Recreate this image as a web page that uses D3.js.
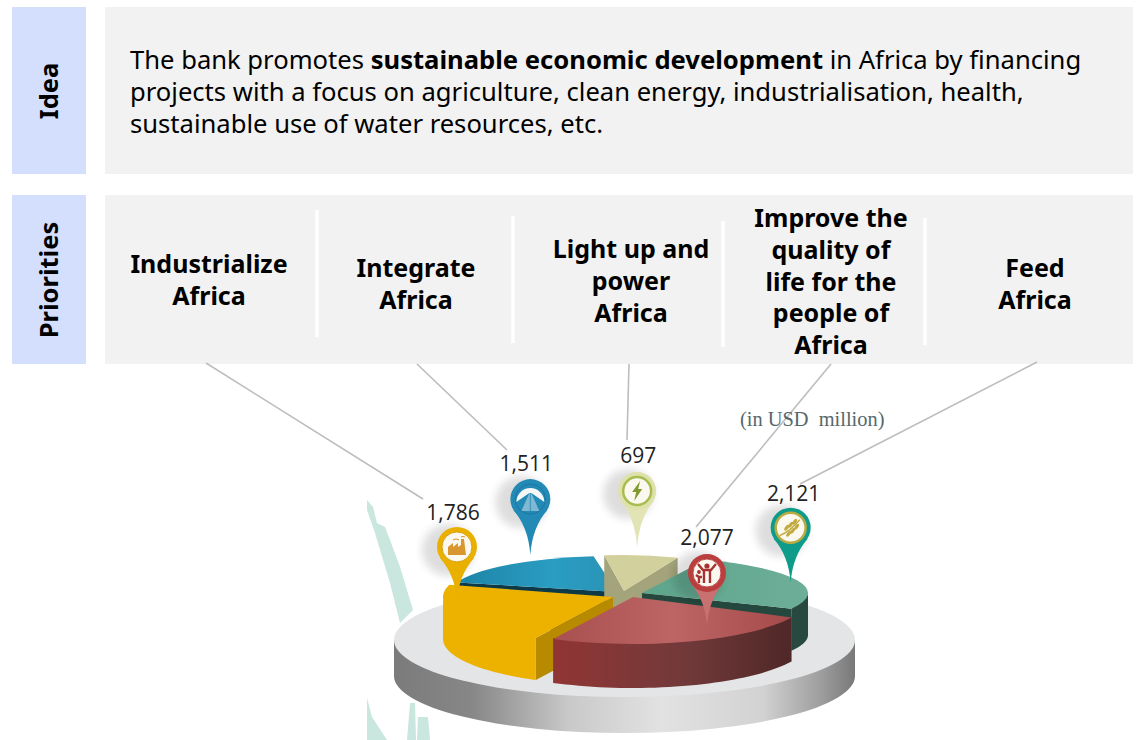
<!DOCTYPE html>
<html lang="en">
<head>
<meta charset="utf-8">
<title>Priorities</title>
<style>
  html, body { margin: 0; padding: 0; background: #fff; }
  svg { display: block; }
  text { font-family: "Noto Sans", "Open Sans", sans-serif; fill: #000; }
</style>
</head>
<body>
<div id="chart"></div>
<script src="https://d3js.org/d3.v7.min.js"></script>
<script>
// data
var categories = ["Industrialize Africa", "Integrate Africa", "Light up and power Africa",
                  "Improve the quality of life for the people of Africa", "Feed Africa"];
var categoryLines = [
  ["Industrialize", "Africa"],
  ["Integrate", "Africa"],
  ["Light up and", "power", "Africa"],
  ["Improve the", "quality of", "life for the", "people of", "Africa"],
  ["Feed", "Africa"]
];
var values = [1786, 1511, 697, 2077, 2121];
var pieOrder = [0, 1, 2, 4, 3];   // clockwise order in the pie

// layout
var W = 1139, H = 740;
var cx = 625, cy = 595;
var rad = Math.PI / 180;
var explode = [[-12, 2], [-8, -3], [-1, -4], [8, 2], [17, -2]];
var radius = [170, 166, 140, 176, 166];
var radiusY = [46, 36, 36, 47, 36];   // the back of the pie is flatter
var wallH = [42, 42, 42, 44, 42];
var drawOrder = [1, 2, 4, 0, 3];
var firstAngle = 207;

var topFill = ["#edb200", "url(#gBlue)", "#d2d09c", "url(#gRed)", "url(#gGreen)"];
var wallFill = ["#edb200", "#0f3f4d", "#d2d09c", "url(#gRedWall)", "#27493f"];
var faceFill = ["#b88a00", "#0e3a47", "#a3a37c", "#5a2a2a", "#25483e"];

var cellBottomY = [273, 277, 258, 227, 277];
var cellX = [209, 416, 631, 831, 1035];
var lineStep = 31.8;
var leaderTop = [[206, 363], [417, 364], [629, 364], [831, 364], [1037, 362]];
var leaderEnd = [[423, 499], [507, 450], [627, 440], [696, 527], [800, 484]];

var pinAngle = [266, 333, 4.4, 144.8, 72.3];
var pinReach = [0.92, 1.15, 1.225, 0.729, 0.94];
var pinLen = [53, 56, 56, 52, 55];
var pinR = [20, 20, 19, 19, 20];
var labelDx = [-4, -4, 1, 0, 3];
var labelDy = [-27, -28, -28, -28, -27];
var pinColor = ["#eab000", "#2389b5", "#dfe1ab", "#b93f3f", "#0f9b8a"];
var pinRing = ["#d99f12", "#1d76a3", "#a8bd50", "#c24a4a", "#b9ab42"];
var pinTail = ["#eab000", "#2389b5", "#e3e4b5", "#c97070", "#0f9b8a"];
var iconColor = ["#d9962e", "#7fb8d0", "#7f9a2e", "#a83232", "#c2ab3e"];

var svg = d3.select("#chart").append("svg").attr("width", W).attr("height", H);
var defs = svg.append("defs");

function linGrad(id, stops) {
  var g = defs.append("linearGradient").attr("id", id)
    .attr("x1", 0).attr("y1", 0).attr("x2", 1).attr("y2", 0);
  stops.forEach(function(s) {
    g.append("stop").attr("offset", s[0]).attr("stop-color", s[1]);
  });
}
linGrad("gBlue", [[0, "#1d84a6"], [0.6, "#2a9dc2"], [1, "#2a93b5"]]);
linGrad("gRed", [[0, "#a84f4f"], [0.5, "#bd6565"], [1, "#a54a4a"]]);
linGrad("gGreen", [[0, "#5ea58c"], [1, "#6dae98"]]);
linGrad("gRedWall", [[0, "#913534"], [0.55, "#72393a"], [1, "#4f2827"]]);
linGrad("gDisc", [[0, "#7b7b7b"], [0.17, "#878787"], [0.38, "#c9c9c9"], [0.58, "#e2e2e2"],
                  [0.8, "#d2d2d2"], [0.93, "#9c9c9c"], [1, "#787878"]]);
defs.append("filter").attr("id", "soft").attr("x", "-50%").attr("y", "-50%")
  .attr("width", "200%").attr("height", "200%")
  .append("feGaussianBlur").attr("stdDeviation", 4);

// boxes
var boxes = [[12, 7, 74, 167, "#d4dffd"], [105, 7, 1028, 167, "#f2f2f2"],
             [12, 195, 74, 169, "#d4dffd"], [105, 195, 1028, 169, "#f2f2f2"]];
svg.selectAll("rect.box").data(boxes).enter().append("rect").attr("class", "box")
  .attr("x", function(d) { return d[0]; }).attr("y", function(d) { return d[1]; })
  .attr("width", function(d) { return d[2]; }).attr("height", function(d) { return d[3]; })
  .attr("fill", function(d) { return d[4]; });

var dividers = [[317, 210, 337], [513, 216, 343], [723, 221, 347], [925, 218, 345]];
svg.selectAll("line.div").data(dividers).enter().append("line").attr("class", "div")
  .attr("x1", function(d) { return d[0]; }).attr("x2", function(d) { return d[0]; })
  .attr("y1", function(d) { return d[1]; }).attr("y2", function(d) { return d[2]; })
  .attr("stroke", "#fff").attr("stroke-width", 3.5);

[["Idea", 91], ["Priorities", 280]].forEach(function(d) {
  svg.append("text").text(d[0])
    .attr("transform", "translate(58," + d[1] + ") rotate(-90)")
    .attr("text-anchor", "middle").attr("font-size", 25.5).attr("font-weight", 700);
});

// intro text
var intro = [
  [["The bank promotes ", 400], ["sustainable economic development", 700], [" in Africa by financing", 400]],
  [["projects with a focus on agriculture, clean energy, industrialisation, health,", 400]],
  [["sustainable use of water resources, etc.", 400]]
];
intro.forEach(function(line, i) {
  var t = svg.append("text").attr("x", 130).attr("y", 69 + i * 32).attr("font-size", 25.6);
  line.forEach(function(part) {
    t.append("tspan").attr("font-weight", part[1]).text(part[0]);
  });
});

// priority headings
categoryLines.forEach(function(lines, i) {
  lines.forEach(function(s, j) {
    svg.append("text").text(s)
      .attr("x", cellX[i]).attr("y", cellBottomY[i] + j * lineStep)
      .attr("text-anchor", "middle").attr("font-size", 25).attr("font-weight", 700);
  });
});

// background brush shapes
var brush = [
  [[367,500],[373,507],[377,523],[385,527],[390,540],[400,567],[413,610],[400,623],[390,583],[375,533],[367,510]],
  [[367,698],[372,717],[387,740],[367,740]],
  [[407,740],[410,703],[415,703],[416,740]],
  [[417,740],[418,717],[428,717],[430,740]]
];
svg.selectAll("polygon.brush").data(brush).enter().append("polygon").attr("class", "brush")
  .attr("points", function(d) { return d.join(" "); }).attr("fill", "#c9e6df");

// leader lines
svg.selectAll("line.leader").data(leaderTop).enter().append("line").attr("class", "leader")
  .attr("x1", function(d) { return d[0]; }).attr("y1", function(d) { return d[1]; })
  .attr("x2", function(d, i) { return leaderEnd[i][0]; }).attr("y2", function(d, i) { return leaderEnd[i][1]; })
  .attr("stroke", "#bdbdbd").attr("stroke-width", 1.6);

svg.append("text").text("(in USD  million)").attr("x", 740).attr("y", 426)
  .style("font-family", "'Liberation Serif', serif").style("fill", "#56686a")
  .style("white-space", "pre").attr("font-size", 20.4);

// disc under the pie
var disc = { x: 624.5, y: 640, rx: 230.5, ry: 57, h: 36 };
svg.append("path")
  .attr("d", "M" + (disc.x - disc.rx) + "," + disc.y + "v" + disc.h +
    "a" + disc.rx + "," + disc.ry + " 0 0 0 " + (2 * disc.rx) + ",0v" + (-disc.h) + "z")
  .attr("fill", "url(#gDisc)");
svg.append("ellipse").attr("cx", disc.x).attr("cy", disc.y)
  .attr("rx", disc.rx).attr("ry", disc.ry).attr("fill", "#e3e5e6");

// pie
var pie = d3.pie().value(function(i) { return values[i]; })
  .sort(function(a, b) { return pieOrder.indexOf(a) - pieOrder.indexOf(b); })
  .startAngle(firstAngle * rad).endAngle(firstAngle * rad + 2 * Math.PI);
var slices = pie(d3.range(values.length));
var byIndex = {};
slices.forEach(function(s) { byIndex[s.data] = s; });

function ringPoint(i, a, f) {
  if (f === undefined) f = 1;
  return [cx + explode[i][0] + f * radius[i] * Math.sin(a),
          cy + explode[i][1] - f * radiusY[i] * Math.cos(a)];
}
var pathLine = d3.line();

drawOrder.forEach(function(i) {
  var s = byIndex[i], a0 = s.startAngle, a1 = s.endAngle, h = wallH[i];
  if (a0 >= 2 * Math.PI) { a0 -= 2 * Math.PI; a1 -= 2 * Math.PI; }
  var g = svg.append("g").attr("class", "slice");
  var apex = ringPoint(i, 0, 0);

  // radial faces which look towards the viewer
  [[a0, a0 - Math.PI / 2], [a1, a1 + Math.PI / 2]].forEach(function(f) {
    if (Math.cos(f[1]) < 0) {
      var p = ringPoint(i, f[0]);
      g.append("path").attr("fill", faceFill[i]).attr("d", pathLine([
        apex, p, [p[0], p[1] + h], [apex[0], apex[1] + h]
      ]) + "Z");
    }
  });

  // outer wall, only the front half of the ring shows
  // (starts 1px higher so that no seam shows under the top face)
  var from = Math.max(a0, 90 * rad), to = Math.min(a1, 270 * rad);
  if (to > from) {
    var n = 40;
    var rim = d3.range(n + 1).map(function(j) { return ringPoint(i, from + (to - from) * j / n); });
    var low = rim.slice().reverse().map(function(p) { return [p[0], p[1] + h]; });
    var up = rim.map(function(p) { return [p[0], p[1] - 1]; });
    g.append("path").attr("fill", wallFill[i]).attr("d", pathLine(up.concat(low)) + "Z");
  }

  // top face
  g.append("path")
    .attr("transform", "translate(" + apex[0] + "," + apex[1] + ") scale(1," + (radiusY[i] / radius[i]) + ")")
    .attr("d", d3.arc().innerRadius(0).outerRadius(radius[i])(s))
    .attr("fill", topFill[i]);
});

// pins
var icons = [
  function(g, c) {
    g.append("path").attr("fill", c).attr("d",
      "M-9,8V0l5,-4v4l5,-4v4l3,-2V-8h3l2,16Z");
    g.append("path").attr("fill", "none").attr("stroke", c).attr("stroke-width", 1)
      .attr("d", "M-4,-7q3,-2 6,0M4,-10q2,-1 4,0");
  },
  function(g, c) {
    g.append("path").attr("fill", "#f4f7f8").attr("d", "M-14,3A14,14 0 0 1 14,3L1,-6H-1Z");
    g.append("path").attr("fill", c).attr("d", "M-1,-6H1L9,12H-9Z");
    g.append("path").attr("stroke", "#2389b5").attr("stroke-width", 0.8).attr("d", "M0,-6V12");
  },
  function(g, c) {
    g.append("path").attr("fill", c).attr("d", "M3,-10L-5,1H-1L-3,10L5,-2H1Z");
  },
  function(g, c) {
    g.append("path").attr("fill", "none").attr("stroke", c).attr("stroke-width", 2.4)
      .attr("d", "M-9,-9L-4,-3H4L9,-9M-3,-3V10M3,-3V10M-11,2L-8,4H-5M-8,4V10");
    g.append("circle").attr("cx", 0).attr("cy", -7).attr("r", 2.6).attr("fill", c);
    g.append("circle").attr("cx", -8).attr("cy", -1).attr("r", 1.9).attr("fill", c);
  },
  function(g, c) {
    g.append("path").attr("fill", "none").attr("stroke", c).attr("stroke-width", 1.4)
      .attr("d", "M-11,8Q0,3 9,-8");
    [[-4, 0], [0, -3], [4, -6], [-2, 6], [2, 3], [6, -1]].forEach(function(p) {
      g.append("ellipse").attr("rx", 3.4).attr("ry", 1.6).attr("fill", c)
        .attr("transform", "translate(" + p[0] + "," + p[1] + ") rotate(-55)");
    });
  }
];

var fmt = d3.format(",");
[1, 2, 0, 4, 3].forEach(function(i) {
  var tip = ringPoint(i, pinAngle[i] * rad, pinReach[i]);
  var g = svg.append("g").attr("class", "pin")
    .attr("transform", "translate(" + tip[0] + "," + (tip[1] - pinLen[i]) + ")");
  var r = pinR[i], len = pinLen[i];
  g.append("circle").attr("cx", -9).attr("cy", 3).attr("r", r + 6)
    .attr("fill", "#000").attr("opacity", 0.13).attr("filter", "url(#soft)");
  g.append("path").attr("fill", pinTail[i]).attr("d",
    "M" + (-r * 0.85) + "," + (r * 0.55) +
    "Q-2," + (r + 8) + " 0," + len +
    "Q2," + (r + 8) + " " + (r * 0.85) + "," + (r * 0.55) + "Z");
  g.append("circle").attr("r", r).attr("fill", pinColor[i]);
  g.append("circle").attr("r", r - 5).attr("fill", i === 1 ? "#2389b5" : "#fbf8f0")
    .attr("stroke", pinRing[i]).attr("stroke-width", i === 2 || i === 4 ? 2.5 : 1);
  icons[i](g, iconColor[i]);
  svg.append("text").text(fmt(values[i]))
    .attr("x", tip[0] + labelDx[i]).attr("y", tip[1] - len + labelDy[i])
    .attr("text-anchor", "middle").attr("font-size", 21)
    .style("font-family", "'Open Sans', sans-serif").style("fill", "#222");
});
</script>
</body>
</html>
